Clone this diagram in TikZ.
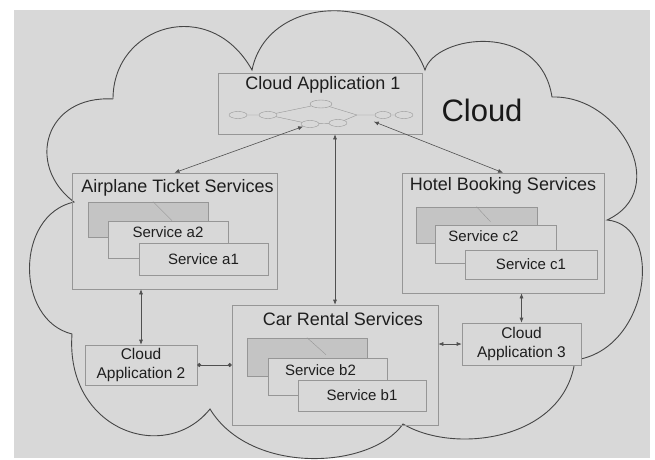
\documentclass[tikz,border=0pt]{standalone}
\usepackage{fontspec}
\setmainfont{Liberation Sans}
\usetikzlibrary{arrows.meta,positioning,shapes.geometric}

\definecolor{bggray}{RGB}{216,216,216}
\definecolor{shadegray}{RGB}{196,196,196}
\definecolor{boxgray}{RGB}{150,150,150}
\definecolor{linegray}{RGB}{80,80,80}
\definecolor{cloudgray}{RGB}{70,70,70}
\definecolor{txtgray}{RGB}{30,30,30}

\begin{document}
\begin{tikzpicture}[x=1pt,y=1pt]
    % Define styles
    \tikzstyle{groupbox} = [rectangle, draw=boxgray, line width=0.6pt, inner sep=0pt]
    \tikzstyle{backbox} = [rectangle, draw=boxgray, fill=shadegray, line width=0.6pt, inner sep=0pt]
    \tikzstyle{svcbox} = [rectangle, draw=boxgray, fill=bggray, line width=0.6pt, inner sep=0pt, font=\fontsize{15}{18}\selectfont, text=txtgray]
    \tikzstyle{appbox} = [rectangle, draw=boxgray, fill=bggray, line width=0.6pt, inner sep=0pt, align=center, font=\fontsize{15.5}{19}\selectfont, text=txtgray]
    \tikzstyle{title} = [font=\fontsize{18}{21}\selectfont, text=txtgray]
    \tikzstyle{svclabel} = [font=\fontsize{15}{18}\selectfont, text=txtgray]
    \tikzstyle{bubble} = [ellipse, draw=boxgray, minimum width=18pt, minimum height=7pt, inner sep=0pt]
    \tikzstyle{link} = [draw=linegray, line width=0.6pt, {Latex[length=5pt,width=4pt]}-{Latex[length=5pt,width=4pt]}]

    % Background and cloud outline
    \useasboundingbox (0,0) rectangle (655,459);
    \fill[bggray] (14,1) rectangle (650,449);
    \draw[cloudgray, line width=0.9pt] (113,360)
        .. controls (113,434) and (210,464) .. (252,389)
        .. controls (268,467) and (395,469) .. (425,389)
        .. controls (435,424) and (540,439) .. (552,362)
        .. controls (620,364) and (672,269) .. (607,239)
        .. controls (665,234) and (650,109) .. (575,99)
        .. controls (565,19) and (455,4) .. (403,35)
        .. controls (370,-11) and (250,-16) .. (210,50)
        .. controls (165,-6) and (65,29) .. (72,125)
        .. controls (15,139) and (15,244) .. (74,257)
        .. controls (25,294) and (45,364) .. (113,360);
    \node[font=\fontsize{31}{36}\selectfont, text=black!90] (cloudlbl) at (482,349) {Cloud};

    % Cloud Application 1
    \node (app1) [groupbox, minimum width=204pt, minimum height=61pt] at (320,355.5) {};
    \node (app1t) [title] at ([xshift=3pt,yshift=-12pt]app1.north) {Cloud Application 1};
    \node (e1) [bubble] at (238,344) {};
    \node (e2) [bubble] at (268,344) {};
    \node (e3) [bubble, minimum width=22pt, minimum height=8pt] at (321,355) {};
    \node (e4) [bubble] at (310,335) {};
    \node (e5) [bubble] at (338,336) {};
    \coordinate (cross) at (357,344);
    \node (e6) [bubble, minimum width=16pt] at (383,344) {};
    \node (e7) [bubble] at (404,344) {};
    \draw[boxgray] (e1) -- (e2) (e2) -- (e3) (e2) -- (e4) (e4) -- (e5)
        (e3) -- (cross) -- (e6) (e5) -- (cross) (e6) -- (e7);

    % Airplane Ticket Services
    \node (air) [groupbox, minimum width=205pt, minimum height=116pt] at (174.5,228) {};
    \node (airt) [title] at ([xshift=3pt,yshift=-15pt]air.north) {Airplane Ticket Services};
    \node (a3) [backbox, minimum width=120pt, minimum height=35pt] at (148,239.5) {};
    \draw[boxgray] ([xshift=5pt]a3.north) -- ++(19,-19);
    \node (a2) [svcbox, minimum width=120pt, minimum height=37pt] at (168,219.5) {};
    \node (a2t) [svclabel] at ([yshift=-11pt]a2.north) {Service a2};
    \node (a1) [svcbox, minimum width=129pt, minimum height=32pt] at (203.5,200) {Service a1};

    % Hotel Booking Services
    \node (hotel) [groupbox, minimum width=202pt, minimum height=120pt] at (503,226) {};
    \node (hotelt) [title] at ([yshift=-13pt]hotel.north) {Hotel Booking Services};
    \node (c3) [backbox, minimum width=121pt, minimum height=36pt] at (476.5,234) {};
    \draw[boxgray] (c3.north) -- ++(14,-15);
    \node (c2) [svcbox, minimum width=121pt, minimum height=38pt] at (495.5,215) {};
    \node (c2t) [svclabel] at ([xshift=-12pt,yshift=-11pt]c2.north) {Service c2};
    \node (c1) [svcbox, minimum width=132pt, minimum height=29pt] at (531,194.5) {Service c1};

    % Car Rental Services
    \node (car) [groupbox, minimum width=206pt, minimum height=120pt] at (335,94) {};
    \node (cart) [title] at ([xshift=8pt,yshift=-14pt]car.north) {Car Rental Services};
    \node (b3) [backbox, minimum width=120pt, minimum height=38pt] at (307,102) {};
    \draw[boxgray] (b3.north) -- ++(19,-17);
    \node (b2) [svcbox, minimum width=119pt, minimum height=37pt] at (327.5,82.5) {};
    \node (b2t) [svclabel] at ([xshift=-7pt,yshift=-12pt]b2.north) {Service b2};
    \node (b1) [svcbox, minimum width=128pt, minimum height=31pt] at (362,63.5) {Service b1};

    % Cloud Applications 2 and 3
    \node (app2) [appbox, minimum width=112pt, minimum height=40pt] at (141,94) {Cloud\\Application 2};
    \node (app3) [appbox, minimum width=119pt, minimum height=42pt] at (521.5,115) {Cloud\\Application 3};

    % Arrows
    \draw [link] (e4) -- (air.north);
    \draw [link] (app1.south -| car.north) -- (car.north);
    \draw [link, shorten <=18pt] (cross) -- (hotel.north);
    \draw [link] (app2.north |- air.south) -- (app2.north);
    \draw [link, {Circle[length=4pt]}-{Circle[length=4pt]}] (app2.east) -- (app2.east -| car.west);
    \draw [link] (car.east |- app3.west) -- (app3.west);
    \draw [link] (app3.north |- hotel.south) -- (app3.north);
\end{tikzpicture}
\end{document}
